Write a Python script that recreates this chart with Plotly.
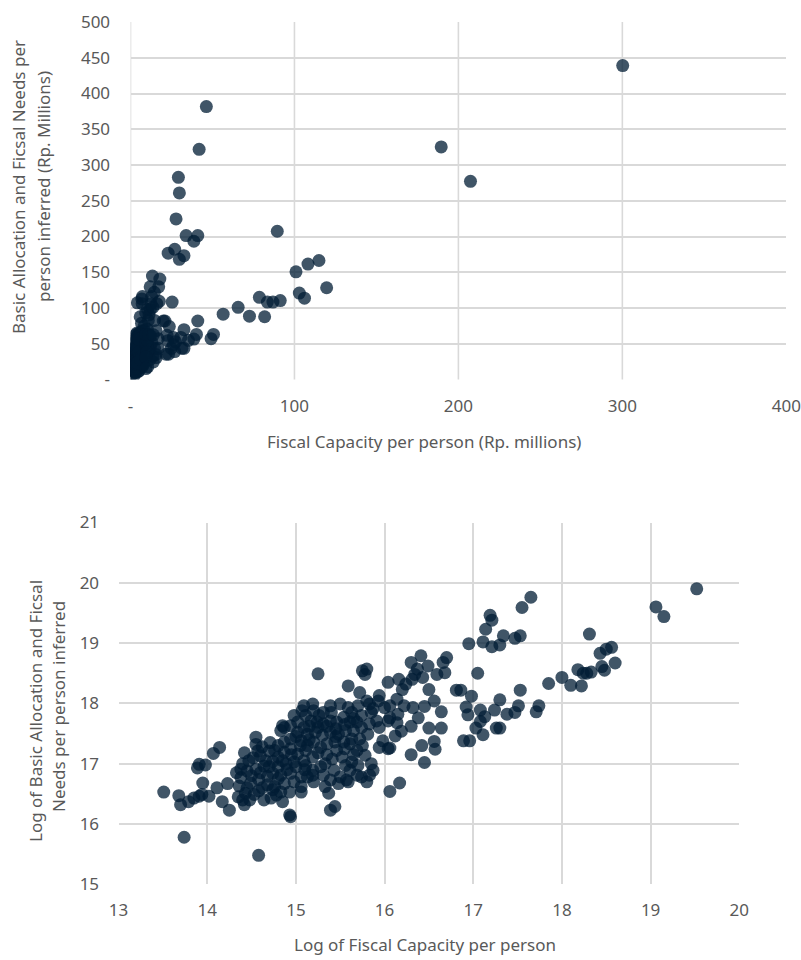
import numpy as np
import plotly.graph_objects as go

# Log of Fiscal Capacity per person (x) and Log of Basic Allocation and Fiscal Needs per person inferred (y)
log_fiscal_capacity = [
    13.51, 13.68, 13.70, 13.79, 13.85, 13.91, 13.94, 14.02, 13.95, 13.89, 13.91, 13.98, 14.07, 14.14, 14.11, 14.17,
    14.25, 14.23, 13.74, 14.58, 14.42, 14.55, 14.38, 14.36, 14.40, 14.42, 14.55, 14.57, 14.60, 14.70, 14.64, 14.55,
    14.45, 14.38, 14.49, 14.58, 14.68, 14.74, 14.62, 14.53, 14.43, 14.72, 14.64, 14.74,
    14.47, 14.50, 14.60, 14.66, 14.70, 14.52, 14.40, 14.45, 14.58, 14.68, 14.35, 14.62, 14.71, 14.48, 14.33,
    15.25, 15.78, 15.75, 15.80, 15.59, 15.72, 15.80, 15.83, 15.94, 16.00, 15.93, 15.87, 15.94, 15.98, 15.94, 15.85,
    15.87, 15.83, 15.80, 15.74, 15.69, 15.57, 15.56, 15.63, 15.70, 15.78, 15.69, 15.61, 15.52, 15.46, 15.41, 15.33,
    15.43, 15.39, 15.50, 15.33, 15.37, 15.44, 15.39, 15.48, 15.59, 15.61, 15.31, 15.19, 15.20, 15.06, 15.06, 14.93,
    14.85, 14.78, 14.94, 14.93, 15.11,
    15.09, 15.19, 15.07, 15.26, 15.31, 15.39, 15.50, 15.59, 15.63, 15.70, 15.74, 15.69, 15.61, 15.54, 15.46, 15.39,
    15.31, 15.24, 15.17, 15.09, 15.02, 14.94, 14.87, 14.83, 15.02, 15.13, 15.22, 15.30, 15.39, 15.48, 15.56, 15.65,
    15.74, 15.83, 15.91, 15.81, 15.72, 15.63, 15.54, 15.44, 15.35, 15.28, 15.20, 15.13, 15.06, 14.94, 14.87, 14.80,
    14.76, 14.80, 14.87, 14.94, 15.02, 15.11, 15.19, 15.09, 14.98, 14.89, 14.80, 14.74, 14.83, 14.94, 15.06, 15.13,
    15.19, 14.98, 14.87, 14.76, 14.83, 14.85, 15.11, 14.98,
    15.00, 15.15, 15.25, 15.35, 15.45, 15.55, 15.65, 15.15, 15.05, 14.95, 14.85, 15.25, 15.35, 15.45, 15.55, 15.75,
    15.85, 15.20, 15.40, 14.90, 15.00, 14.80, 15.10, 15.28, 15.65,
    16.04, 16.04, 16.04,
    16.45, 16.30, 16.42, 16.57, 16.56, 16.50, 16.64, 16.64, 16.56, 16.50, 16.32, 16.38, 16.30, 16.19, 16.14, 16.06,
    16.15, 16.14, 16.06, 16.22, 16.20, 16.16, 16.24, 16.31, 16.34, 16.43, 16.49, 16.41, 16.30, 16.66, 16.70, 16.68,
    16.59, 16.37, 16.12, 16.06, 16.17, 16.06, 16.45,
    19.52, 19.06, 19.15, 18.31, 18.43, 18.50, 18.56, 18.60, 18.48, 18.45, 18.33, 18.28, 18.24, 18.18, 18.22, 18.10,
    18.00, 17.85, 17.65, 17.55, 17.19, 17.21, 17.14, 17.11, 16.95, 17.21, 17.30, 17.34, 17.47, 17.53, 17.05, 16.81,
    16.86, 16.98, 16.92, 16.94, 17.08, 17.13, 17.03, 17.11, 17.26, 17.30, 17.38, 17.47, 17.51, 17.53, 17.71, 17.74,
    17.30, 17.24, 16.89, 16.96, 17.08,
]
log_allocation = [
    16.53, 16.47, 16.32, 16.37, 16.43, 16.46, 16.49, 16.46, 16.68, 16.93, 16.99, 16.98, 17.17, 17.27, 16.60, 16.37,
    16.23, 16.67, 15.78, 15.48, 17.18, 17.44, 16.91, 16.63, 16.40, 16.32, 17.32, 17.21, 17.13, 17.21, 16.96, 16.91,
    16.88, 16.77, 16.68, 16.74, 16.79, 17.04, 16.60, 16.49, 16.51, 16.43, 16.40, 16.57,
    17.05, 16.80, 16.85, 17.05, 16.95, 17.10, 17.00, 16.60, 16.55, 16.65, 16.45, 17.28, 17.35, 16.40, 16.85,
    18.49, 18.48, 18.54, 18.57, 18.29, 18.18, 18.04, 17.99, 18.13, 17.93, 18.04, 17.91, 17.60, 17.38, 17.27, 17.00,
    16.89, 16.81, 16.70, 16.78, 16.81, 16.73, 16.97, 17.03, 16.97, 17.14, 17.22, 17.33, 17.11, 17.22, 17.08, 17.00,
    16.89, 16.73, 16.78, 16.62, 16.51, 16.29, 16.23, 16.67, 16.70, 16.89, 16.81, 16.81, 16.70, 16.62, 16.53, 16.53,
    16.37, 16.48, 16.12, 16.15, 16.97,
    17.96, 17.99, 17.88, 17.80, 17.85, 17.96, 17.99, 17.93, 17.85, 17.96, 17.80, 17.69, 17.69, 17.77, 17.69, 17.71,
    17.66, 17.69, 17.71, 17.60, 17.69, 17.63, 17.60, 17.55, 17.52, 17.49, 17.52, 17.47, 17.52, 17.49, 17.55, 17.55,
    17.60, 17.66, 17.71, 17.49, 17.41, 17.41, 17.36, 17.36, 17.33, 17.27, 17.36, 17.30, 17.38, 17.41, 17.36, 17.30,
    17.22, 17.11, 17.19, 17.25, 17.16, 17.22, 17.11, 17.05, 17.03, 17.00, 16.95, 16.84, 16.81, 16.84, 16.78, 16.78,
    16.89, 16.70, 16.67, 16.62, 16.53, 17.63, 17.80, 17.80,
    17.45, 17.40, 17.60, 17.62, 17.58, 17.65, 17.75, 17.62, 17.30, 17.15, 17.05, 17.18, 17.15, 17.45, 17.25, 17.30,
    17.85, 17.88, 17.85, 16.90, 16.95, 16.75, 16.90, 16.95, 17.15,
    18.35, 17.25, 17.71,
    17.02, 17.15, 17.30, 17.24, 17.37, 17.59, 17.59, 17.86, 18.04, 18.23, 17.93, 17.76, 17.62, 17.54, 17.68, 17.76,
    17.82, 18.07, 17.96, 17.96, 18.23, 18.40, 18.32, 18.40, 18.48, 18.43, 18.62, 18.79, 18.68, 18.68, 18.76, 18.51,
    18.48, 18.57, 17.46, 17.26, 16.68, 16.54, 17.95,
    19.90, 19.60, 19.44, 19.15, 18.83, 18.90, 18.93, 18.67, 18.55, 18.61, 18.52, 18.50, 18.50, 18.56, 18.29, 18.30,
    18.43, 18.33, 19.76, 19.59, 19.46, 19.38, 19.23, 19.02, 18.99, 18.94, 18.97, 19.12, 19.08, 19.12, 18.50, 18.22,
    18.22, 18.12, 17.94, 17.81, 17.89, 17.78, 17.59, 17.48, 17.59, 17.59, 17.82, 17.85, 17.96, 18.22, 17.86, 17.96,
    18.06, 17.89, 17.38, 17.38, 17.70,
]

# Level view (Rp. millions) of the same districts
fiscal_capacity_mn = np.exp(np.array(log_fiscal_capacity)) / 1e6
allocation_mn = np.exp(np.array(log_allocation)) / 1e6

top_x_ticks = [0, 100, 200, 300, 400]
top_x_labels = ["-", "100", "200", "300", "400"]
top_y_ticks = [0, 50, 100, 150, 200, 250, 300, 350, 400, 450, 500]
top_y_labels = ["-"] + [str(v) for v in top_y_ticks[1:]]
bottom_x_ticks = [13, 14, 15, 16, 17, 18, 19, 20]
bottom_y_ticks = [15, 16, 17, 18, 19, 20, 21]

FONT = "Noto Sans"
TXT = "#595959"
GRID = "#d9d9d9"
marker = dict(size=13, color="rgb(0,28,52)", opacity=0.75, line=dict(width=0))

fig = go.Figure()
fig.add_trace(go.Scatter(x=fiscal_capacity_mn, y=allocation_mn, mode="markers",
                         marker=marker, xaxis="x", yaxis="y", showlegend=False, hoverinfo="skip"))
fig.add_trace(go.Scatter(x=log_fiscal_capacity, y=log_allocation, mode="markers",
                         marker=marker, xaxis="x2", yaxis="y2", showlegend=False, hoverinfo="skip"))

tickfont = dict(family=FONT, size=17, color=TXT)
common = dict(automargin=False, zeroline=False, showline=False, ticks="outside",
              tickcolor="rgba(0,0,0,0)", tickfont=tickfont, tickmode="array")

fig.update_layout(
    width=801, height=960, autosize=False,
    margin=dict(l=0, r=0, t=0, b=0, pad=0),
    paper_bgcolor="white", plot_bgcolor="white",
    xaxis=dict(domain=[130.5 / 801, 786.3 / 801], anchor="y", range=[0, 400],
               tickvals=top_x_ticks, ticktext=top_x_labels, showgrid=False, ticklen=11, **common),
    yaxis=dict(domain=[(960 - 379.5) / 960, (960 - 22) / 960], anchor="x", range=[0, 500],
               tickvals=top_y_ticks, ticktext=top_y_labels, showgrid=True, gridcolor=GRID,
               gridwidth=1.6, ticklen=16, **common),
    xaxis2=dict(domain=[118.5 / 801, 739.3 / 801], anchor="y2", range=[13, 20],
                tickvals=bottom_x_ticks, showgrid=True, gridcolor=GRID, gridwidth=1.6,
                ticklen=10, **common),
    yaxis2=dict(domain=[(960 - 884.3) / 960, (960 - 522.5) / 960], anchor="x2", range=[15, 21],
                tickvals=bottom_y_ticks, showgrid=True, gridcolor=GRID, gridwidth=1.6,
                ticklen=15, **common),
)

# vertical grid lines of the top chart (none at the right end)
for v in top_x_ticks[:-1]:
    fig.add_shape(type="line", xref="x", yref="y domain", x0=v, x1=v, y0=0, y1=1,
                  line=dict(color=GRID, width=1.6), layer="below")

title_font = dict(family=FONT, size=17, color=TXT)
ann = [
    dict(text="Fiscal Capacity per person (Rp. millions)", x=424 / 801, y=1 - 441 / 960, textangle=0),
    dict(text="Log of Fiscal Capacity per person", x=425 / 801, y=1 - 944 / 960, textangle=0),
    dict(text="Basic Allocation and Ficsal Needs per", x=18 / 801, y=1 - 187 / 960, textangle=-90),
    dict(text="person inferred (Rp. Millions)", x=43 / 801, y=1 - 187 / 960, textangle=-90),
    dict(text="Log of Basic Allocation and Ficsal", x=35 / 801, y=1 - 711 / 960, textangle=-90),
    dict(text="Needs per person inferred", x=58 / 801, y=1 - 707 / 960, textangle=-90),
]
for a in ann:
    fig.add_annotation(xref="paper", yref="paper", xanchor="center", yanchor="middle",
                       showarrow=False, font=title_font, **a)

fig.write_html("out.html")
